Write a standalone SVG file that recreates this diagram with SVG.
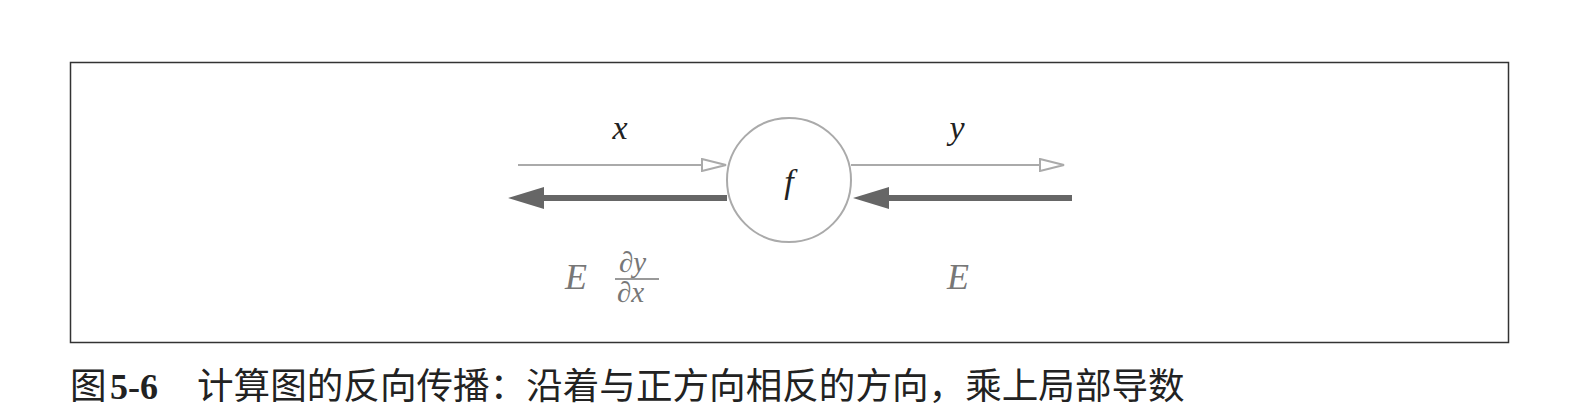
<svg xmlns="http://www.w3.org/2000/svg" width="1569" height="417" viewBox="0 0 1569 417">
<style>
.math{font-family:"Liberation Serif","DejaVu Serif",serif;font-style:italic;font-size:34px;}
.big{font-size:36px;}
.dark{fill:#222;}
.gray{fill:#777;}
.thin{stroke:#aaa;stroke-width:2;fill:none;}
.thick{stroke:#666;stroke-width:6;fill:none;}
.cap{font-family:"Noto Sans CJK SC","Noto Sans",sans-serif;font-size:36.6px;fill:#222;}
.frac{font-size:29px;font-style:normal;}
</style>
<defs>
<marker id="open" viewBox="0 0 26 14" refX="25" refY="7" markerWidth="26" markerHeight="14" markerUnits="userSpaceOnUse" orient="auto">
<path d="M1,1 L25,7 L1,13 Z" fill="#fff" stroke="#aaa" stroke-width="2"/>
</marker>
<marker id="solid" viewBox="0 0 36 22" refX="1" refY="11" markerWidth="36" markerHeight="22" markerUnits="userSpaceOnUse" orient="auto">
<path d="M0,0 L36,11 L0,22 Z" fill="#666"/>
</marker>
</defs>
<rect x="70.5" y="62.5" width="1438" height="280" fill="#fff" stroke="#333" stroke-width="1.5"/>
<g id="connectors">
<line class="thin" x1="518" y1="165" x2="726" y2="165" marker-end="url(#open)"/>
<line class="thin" x1="851" y1="165" x2="1064" y2="165" marker-end="url(#open)"/>
<line class="thick" x1="727" y1="198" x2="543" y2="198" marker-end="url(#solid)"/>
<line class="thick" x1="1072" y1="198" x2="888" y2="198" marker-end="url(#solid)"/>
</g>
<g id="node-f">
<circle cx="789" cy="180" r="62" fill="#fff" stroke="#aaa" stroke-width="2"/>
<text class="math dark" x="789" y="193" text-anchor="middle">f</text>
</g>
<g id="label-x"><text class="math dark" x="620" y="139" text-anchor="middle">x</text></g>
<g id="label-y"><text class="math dark" x="957" y="139" text-anchor="middle">y</text></g>
<g id="label-grad-x">
<text class="math big gray" x="565" y="289">E</text>
<text class="math gray frac" x="619" y="272">∂<tspan font-style="italic">y</tspan></text>
<line x1="615" y1="279" x2="659" y2="279" stroke="#777" stroke-width="1.5"/>
<text class="math gray frac" x="617" y="302">∂<tspan font-style="italic">x</tspan></text>
</g>
<g id="label-E"><text class="math big gray" x="958" y="289" text-anchor="middle">E</text></g>
<text class="cap" x="70" y="399">图<tspan x="110" font-family="Liberation Serif,serif" font-weight="bold" font-size="36">5-6</tspan><tspan x="197">计算图的反向传播：沿着与正方向相反的方向，乘上局部导数</tspan></text>
</svg>
